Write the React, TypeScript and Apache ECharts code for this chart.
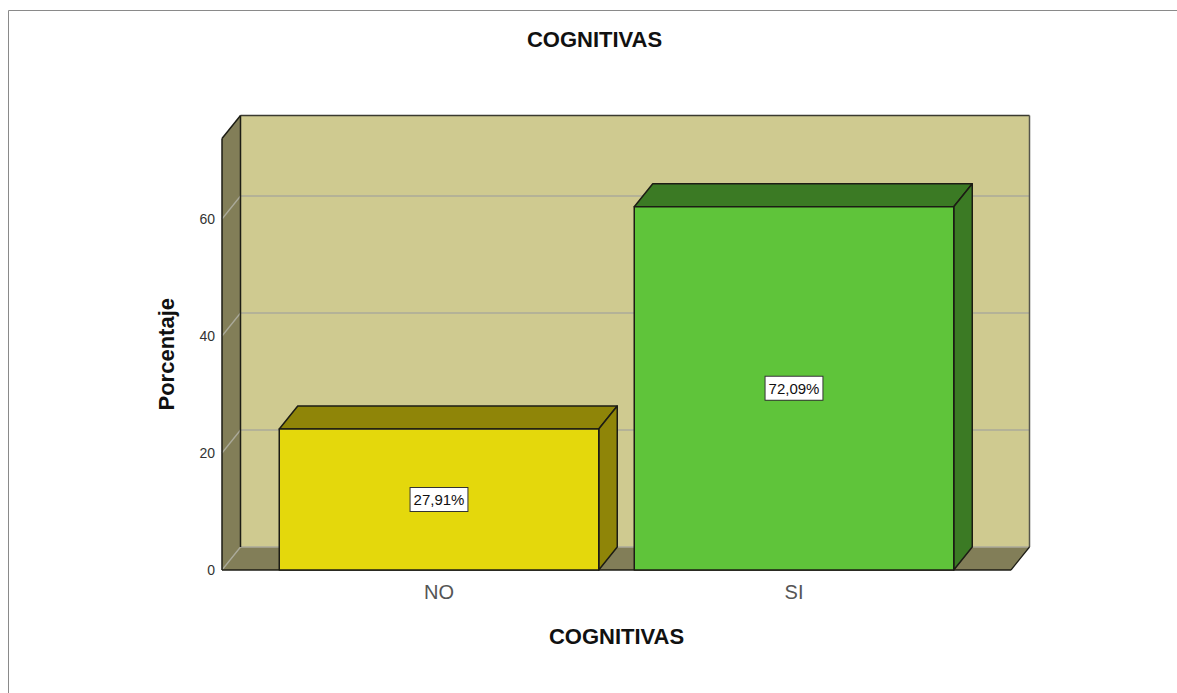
import React, { useEffect, useRef } from "react";
import * as echarts from "echarts";

const categories = ["NO", "SI"];
const barHeights = [24.1, 62.1];
const barLabels = ["27,91%", "72,09%"];
const gridTicks = [0, 20, 40, 60];
const AXIS_MAX = 73.76;
const FONT = '"Liberation Sans", Arial, sans-serif';

const faceColors = ["#E4D80C", "#5FC43A"];
const sideColors = ["#8F8508", "#3B7A24"];
const DEPTH_X = 18.5;
const DEPTH_Y = -23;
const OVERHANG = 39.5;
const EDGE = "#1c1c14";

function renderWalls(params: any, api: any) {
  const cs = params.coordSys;
  const l = cs.x - OVERHANG;
  const r = cs.x + cs.width + OVERHANG;
  const t = cs.y;
  const b = cs.y + cs.height;
  const bl = l + DEPTH_X;
  const br = r + DEPTH_X;
  const bt = t + DEPTH_Y;
  const bb = b + DEPTH_Y;
  const children: any[] = [
    {
      type: "polygon",
      shape: { points: [[bl, bt], [br, bt], [br, bb], [bl, bb]] },
      style: { fill: "#CFCA90", stroke: null },
    },
    {
      type: "polygon",
      shape: { points: [[l, t], [bl, bt], [bl, bb], [l, b]] },
      style: { fill: "#827E58", stroke: null },
    },
    {
      type: "polygon",
      shape: { points: [[l, b], [bl, bb], [br, bb], [r, b]] },
      style: { fill: "#827E58", stroke: null },
    },
  ];
  gridTicks.forEach((v) => {
    const y = api.coord([0, v])[1];
    const style = { stroke: "#ABAA9A", lineWidth: 1.3, fill: null };
    children.push({ type: "line", shape: { x1: l, y1: y, x2: bl, y2: y + DEPTH_Y }, style });
    if (v > 0) {
      children.push({ type: "line", shape: { x1: bl, y1: y + DEPTH_Y, x2: br, y2: y + DEPTH_Y }, style });
    }
  });
  const lines: [number, number, number, number, string, number][] = [
    [bl, bb, br, bb, "#ABAA9A", 1.5],
    [bl, bt, br, bt, "#3a3a30", 1.5],
    [br, bt, br, bb, "#55554c", 1.5],
    [bl, bt, bl, bb, EDGE, 1.5],
    [l, t, bl, bt, EDGE, 1.5],
    [l, t, l, b, EDGE, 1.5],
    [l, b, r, b, EDGE, 1.5],
    [r, b, br, bb, EDGE, 1.2],
  ];
  lines.forEach(([x1, y1, x2, y2, stroke, lineWidth]) => {
    children.push({ type: "line", shape: { x1, y1, x2, y2 }, style: { stroke, lineWidth, fill: null } });
  });
  return { type: "group", children };
}

function renderBar(params: any, api: any) {
  const i = params.dataIndex;
  const [cx, top] = api.coord([api.value(0), api.value(1)]);
  const [, base] = api.coord([api.value(0), 0]);
  const half = (api.size([1, 0])[0] * 0.9) / 2;
  const l = cx - half;
  const r = cx + half;
  const line = { stroke: EDGE, lineWidth: 1.5, lineJoin: "round" };
  return {
    type: "group",
    children: [
      {
        type: "polygon",
        shape: { points: [[l, top], [l + DEPTH_X, top + DEPTH_Y], [r + DEPTH_X, top + DEPTH_Y], [r, top]] },
        style: { fill: sideColors[i], ...line },
      },
      {
        type: "polygon",
        shape: { points: [[r, top], [r + DEPTH_X, top + DEPTH_Y], [r + DEPTH_X, base + DEPTH_Y], [r, base]] },
        style: { fill: sideColors[i], ...line },
      },
      {
        type: "polygon",
        shape: { points: [[l, top], [r, top], [r, base], [l, base]] },
        style: { fill: faceColors[i], ...line },
      },
      {
        type: "text",
        x: cx,
        y: (top + base) / 2,
        style: {
          text: barLabels[i],
          font: `15px ${FONT}`,
          fill: "#111",
          align: "center",
          verticalAlign: "middle",
          backgroundColor: "#fff",
          borderColor: "#333",
          borderWidth: 1,
          padding: [4, 3, 4, 3],
        },
      },
    ],
  };
}

export default function App() {
  const ref = useRef<HTMLDivElement>(null);
  useEffect(() => {
    document.body.style.margin = "0";
    const chart = echarts.init(ref.current!, null, { renderer: "svg" });
    chart.setOption({
      animation: false,
      backgroundColor: "#fff",
      textStyle: { fontFamily: FONT },
      title: {
        text: "COGNITIVAS",
        left: 589.5,
        top: 23,
        textAlign: "center",
        textStyle: { fontFamily: FONT, fontSize: 22, fontWeight: "bold", color: "#111" },
      },
      graphic: [
        {
          type: "polyline",
          shape: { points: [[8.5, 693], [8.5, 10.5], [1177, 10.5]] },
          style: { stroke: "#8a8a8a", lineWidth: 1, fill: null },
        },
      ],
      grid: { left: 261.5, width: 710, top: 138.5, height: 431.5, containLabel: false },
      xAxis: {
        type: "category",
        data: categories,
        axisLine: { show: false },
        axisTick: { show: false },
        axisLabel: { fontFamily: FONT, fontSize: 20, color: "#555", margin: 12 },
        name: "COGNITIVAS",
        nameLocation: "middle",
        nameGap: 55,
        nameTextStyle: { fontFamily: FONT, fontSize: 22, fontWeight: "bold", color: "#111" },
      },
      yAxis: {
        type: "value",
        min: 0,
        max: AXIS_MAX,
        interval: 20,
        offset: OVERHANG,
        axisLine: { show: false },
        axisTick: { show: false },
        splitLine: { show: false },
        axisLabel: { fontFamily: FONT, fontSize: 14, color: "#333", margin: 7, showMaxLabel: false, padding: [2, 0, 0, 0] },
        name: "Porcentaje",
        nameLocation: "middle",
        nameGap: 45,
        nameTextStyle: { fontFamily: FONT, fontSize: 22, fontWeight: "bold", color: "#111" },
      },
      series: [
        {
          type: "custom",
          clip: false,
          silent: true,
          renderItem: renderWalls,
          data: [[0, 0]],
          z: 1,
        },
        {
          type: "custom",
          clip: false,
          renderItem: renderBar,
          encode: { x: 0, y: 1 },
          data: categories.map((c, i) => [i, barHeights[i]]),
          z: 2,
        },
      ],
    });
    return () => chart.dispose();
  }, []);
  return <div ref={ref} style={{ width: 1177, height: 693 }} />;
}
